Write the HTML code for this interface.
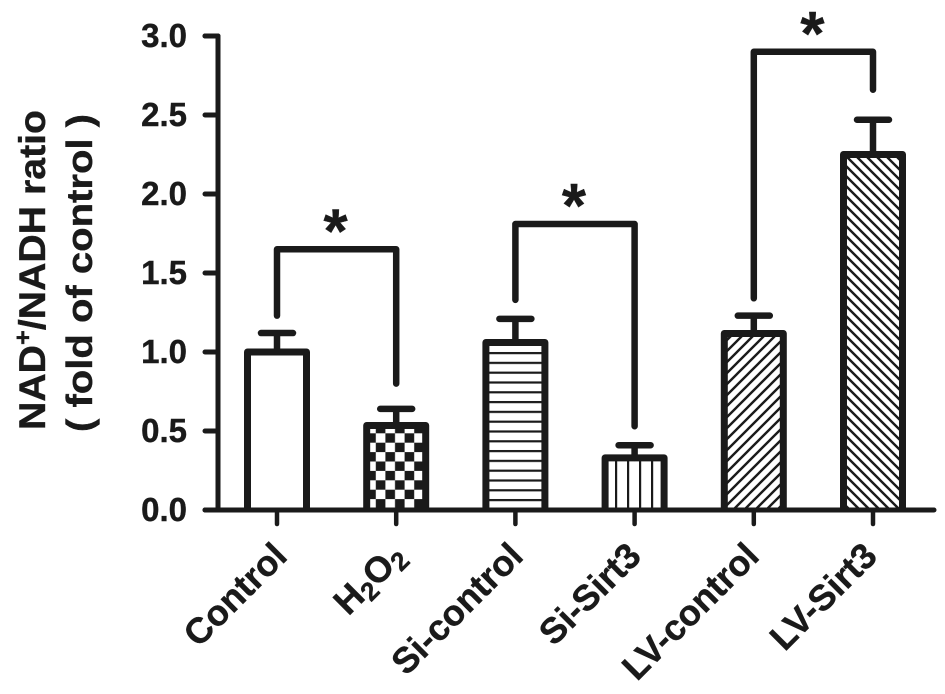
<!DOCTYPE html>
<html>
<head>
<meta charset="utf-8">
<style>
html,body{margin:0;padding:0;background:#fff;}
svg{display:block;}
text{font-family:"Liberation Sans",sans-serif;font-weight:bold;fill:#1a1a1a;stroke:#1a1a1a;stroke-width:0.4;}
</style>
</head>
<body>
<svg id="chart" width="945" height="694" viewBox="0 0 945 694" xmlns="http://www.w3.org/2000/svg">
<defs>
<pattern id="p-none" width="10" height="10" patternUnits="userSpaceOnUse"><rect width="10" height="10" fill="#fff"/></pattern>
<pattern id="p-check" width="19.2" height="18.8" patternUnits="userSpaceOnUse" x="385.4" y="433.3">
<rect width="19.2" height="18.8" fill="#fff"/><rect width="9.6" height="9.4" fill="#1a1a1a"/><rect x="9.6" y="9.4" width="9.6" height="9.4" fill="#1a1a1a"/>
</pattern>
<pattern id="p-horiz" width="10" height="9.8" patternUnits="userSpaceOnUse" x="0" y="351">
<rect width="10" height="9.8" fill="#fff"/><rect y="1" width="10" height="2.2" fill="#1a1a1a"/>
</pattern>
<pattern id="p-vert" width="12" height="10" patternUnits="userSpaceOnUse" x="614" y="0">
<rect width="12" height="10" fill="#fff"/><rect x="1" width="2.2" height="10" fill="#1a1a1a"/>
</pattern>
<pattern id="p-fwd" width="11" height="11" patternUnits="userSpaceOnUse">
<rect width="11" height="11" fill="#fff"/><path d="M-3 3L3 -3M0 11L11 0M8 14L14 8" stroke="#1a1a1a" stroke-width="2.4"/>
</pattern>
<pattern id="p-back" width="10" height="10" patternUnits="userSpaceOnUse">
<rect width="10" height="10" fill="#fff"/><path d="M-3 7L3 13M0 0L10 10M7 -3L13 3" stroke="#1a1a1a" stroke-width="2.4"/>
</pattern>
</defs>
<g id="plot"></g>
<text transform="translate(45,430) rotate(-90)" font-size="37" textLength="320" lengthAdjust="spacingAndGlyphs">NAD<tspan font-size="24" dy="-14">+</tspan><tspan dy="14">/NADH ratio</tspan></text>
<text transform="translate(92,432) rotate(-90)" font-size="36" textLength="318" lengthAdjust="spacingAndGlyphs">( fold of control )</text>
</svg>
<script>
var categories = ['Control', 'H2O2', 'Si-control', 'Si-Sirt3', 'LV-control', 'LV-Sirt3'];
var means = [1.0, 0.535, 1.06, 0.33, 1.117, 2.25];
var errors = [0.12, 0.105, 0.15, 0.08, 0.113, 0.22];
var fills = ['p-none', 'p-check', 'p-horiz', 'p-vert', 'p-fwd', 'p-back'];
var yTicks = [0, 0.5, 1.0, 1.5, 2.0, 2.5, 3.0];
var yTickLabels = ['0.0', '0.5', '1.0', '1.5', '2.0', '2.5', '3.0'];
var bracketFrom = [0, 2, 4];
var bracketTo = [1, 3, 5];
var bracketTop = [1.65, 1.81, 2.9];
var bracketLeftEnd = [1.23, 1.33, 1.34];
var bracketRightEnd = [0.8, 0.53, 2.66];

var NS = 'http://www.w3.org/2000/svg';
var INK = '#1a1a1a';
var plot = document.getElementById('plot');
function yPos(v) { return 510 - v * 158; }
function xPos(i) { return 277 + i * 119.2; }
function make(tag, attrs) {
  var el = document.createElementNS(NS, tag);
  for (var k in attrs) el.setAttribute(k, attrs[k]);
  plot.appendChild(el);
  return el;
}
var halfBar = 29.5;

categories.forEach(function (c, i) {
  var x = xPos(i), top = yPos(means[i]), cap = yPos(means[i] + errors[i]);
  var bar = make('path', {d: 'M' + (x - halfBar) + ' 510V' + top + 'H' + (x + halfBar) + 'V510', fill: 'url(#' + fills[i] + ')', stroke: INK, 'stroke-width': 7, 'stroke-linejoin': 'round'});
  
  
  var err = make('path', {d: 'M' + x + ' ' + top + 'V' + cap + 'M' + (x - 16) + ' ' + cap + 'H' + (x + 16), fill: 'none', stroke: INK, 'stroke-width': 6.5, 'stroke-linecap': 'round'});
  
  
  var tick = make('line', {x1: x, x2: x, y1: 510, y2: 524, stroke: INK, 'stroke-width': 4.5, 'stroke-linecap': 'round'});
  
  
  var lab = make('text', {transform: 'translate(' + (x + 12 - i * 1.2) + ',558) rotate(-45)', 'text-anchor': 'end', 'font-size': 36});
  
  
  if (c === 'H2O2') {
    lab.innerHTML = 'H<tspan font-size="26" dy="6">2</tspan><tspan dy="-6">O</tspan><tspan font-size="26" dy="6">2</tspan>';
  } else {
    lab.textContent = c;
  }
});

var yAxis = make('path', {d: 'M205 ' + yPos(3) + 'H218V510', fill: 'none', stroke: INK, 'stroke-width': 5, 'stroke-linecap': 'round', 'stroke-linejoin': 'round'});


var xAxis = make('line', {x1: 205, x2: 934, y1: 510, y2: 510, stroke: INK, 'stroke-width': 5, 'stroke-linecap': 'round'});



yTicks.forEach(function (v, i) {
  var t = make('line', {x1: 205, x2: 218, y1: yPos(v), y2: yPos(v), stroke: INK, 'stroke-width': 5, 'stroke-linecap': 'round'});
  
  
  var l = make('text', {x: 187, y: yPos(v) + 11, 'text-anchor': 'end', 'font-size': 33});
  
  
  l.textContent = yTickLabels[i];
});

bracketFrom.forEach(function (from, i) {
  var x1 = xPos(from), x2 = xPos(bracketTo[i]), yt = yPos(bracketTop[i]);
  var b = make('path', {d: 'M' + x1 + ' ' + yPos(bracketLeftEnd[i]) + 'V' + yt + 'H' + x2 + 'V' + yPos(bracketRightEnd[i]), fill: 'none', stroke: INK, 'stroke-width': 6.5, 'stroke-linecap': 'round', 'stroke-linejoin': 'round'});
  
  
  var s = make('text', {x: (x1 + x2) / 2 - 1, y: yt + 3, 'text-anchor': 'middle', 'font-size': 62});
  
  
  s.textContent = '*';
});
</script>
</body>
</html>
